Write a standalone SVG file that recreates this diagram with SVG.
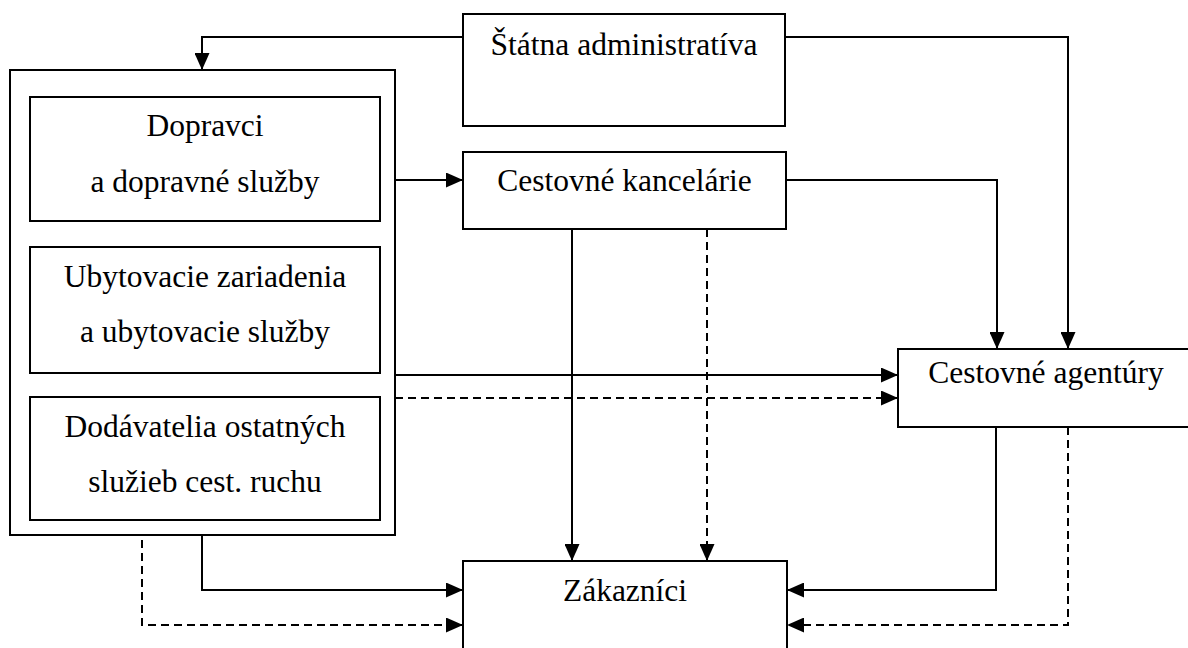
<svg xmlns="http://www.w3.org/2000/svg" width="1188" height="648" viewBox="0 0 1188 648">
<style>
.box{fill:#fff;stroke:#000;stroke-width:2}
.t{font-family:"Liberation Serif","Times New Roman",serif;font-size:31.5px;fill:#000;text-anchor:middle}
.c{fill:none;stroke:#000;stroke-width:2}
.d{stroke-dasharray:8,5}
</style>
<defs>
<marker id="ah" markerUnits="userSpaceOnUse" markerWidth="17" markerHeight="15" refX="17" refY="7.5" orient="auto">
<path d="M0,0 L17,7.5 L0,15 z" fill="#000"/>
</marker>
</defs>
<rect width="1188" height="648" fill="#fff"/>
<g id="statna">
<rect class="box" x="463" y="14" width="322" height="112"/>
<text class="t" x="624" y="55">Štátna administratíva</text>
</g>
<g id="dodavatelia">
<rect class="box" x="10" y="70" width="385" height="465"/>
<g id="dopravci">
<rect class="box" x="30" y="97" width="350" height="124"/>
<text class="t" x="205" y="136">Dopravci</text>
<text class="t" x="205" y="192">a dopravné služby</text>
</g>
<g id="ubytovacie">
<rect class="box" x="30" y="247" width="350" height="126"/>
<text class="t" x="205" y="287">Ubytovacie zariadenia</text>
<text class="t" x="205" y="342">a ubytovacie služby</text>
</g>
<g id="ostatne">
<rect class="box" x="30" y="397" width="350" height="123"/>
<text class="t" x="205" y="437">Dodávatelia ostatných</text>
<text class="t" x="205" y="492">služieb cest. ruchu</text>
</g>
</g>
<g id="kancelarie">
<rect class="box" x="463" y="152" width="323" height="77"/>
<text class="t" x="624.5" y="191">Cestovné kancelárie</text>
</g>
<g id="agentury">
<rect class="box" x="898" y="349" width="296" height="78"/>
<text class="t" x="1046" y="383">Cestovné agentúry</text>
</g>
<g id="zakaznici">
<rect class="box" x="463" y="561" width="324" height="100"/>
<text class="t" x="625" y="601">Zákazníci</text>
</g>
<g id="connectors">
<path class="c" d="M463,37 H202 V70" marker-end="url(#ah)"/>
<path class="c" d="M785,37 H1068 V349" marker-end="url(#ah)"/>
<path class="c" d="M395,180 H463" marker-end="url(#ah)"/>
<path class="c" d="M786,180 H997 V349" marker-end="url(#ah)"/>
<path class="c" d="M395,375 H898" marker-end="url(#ah)"/>
<path class="c d" d="M395,398 H898" marker-end="url(#ah)"/>
<path class="c" d="M572,229 V561" marker-end="url(#ah)"/>
<path class="c d" d="M707,229 V561" marker-end="url(#ah)"/>
<path class="c" d="M202,535 V590 H463" marker-end="url(#ah)"/>
<path class="c d" d="M142,540 V625 H463" marker-end="url(#ah)"/>
<path class="c" d="M996,427 V590 H787" marker-end="url(#ah)"/>
<path class="c d" d="M1068,427 V625 H787" marker-end="url(#ah)"/>
</g>
</svg>
